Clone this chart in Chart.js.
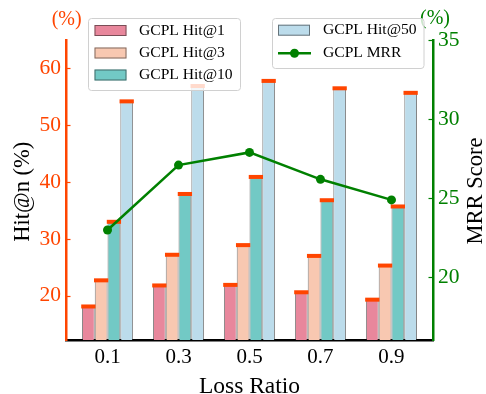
<!DOCTYPE html>
<html>
<head>
<meta charset="utf-8">
<script src="https://cdn.jsdelivr.net/npm/chart.js@4.4.1/dist/chart.umd.min.js"></script>
<style>
  html, body { margin: 0; padding: 0; background: #fff; }
</style>
</head>
<body>
<canvas id="chart" width="486" height="394"></canvas>
<script>
// Data
const lossRatios = ['0.1', '0.3', '0.5', '0.7', '0.9'];
const hit1 = [18.1, 21.8, 21.9, 20.6, 19.3];
const hit3 = [22.7, 27.2, 28.9, 27.0, 25.3];
const hit10 = [33.0, 37.9, 40.9, 36.8, 35.7];
const hit50 = [54.2, 56.9, 57.8, 56.5, 55.7];
const mrr = [23.0, 27.1, 27.9, 26.2, 24.9];
const hitTicks = [20, 30, 40, 50, 60];
const mrrTicks = [20, 25, 30, 35];

const SERIF = "'Liberation Serif', 'Times New Roman', serif";
const ORANGE = '#ff4500';
const GREEN = '#008000';

function toPoints(arr) {
  return arr.map((v, i) => ({ x: i, y: v }));
}

function barSet(label, values, color) {
  return {
    type: 'bar',
    label: label,
    data: toPoints(values),
    backgroundColor: color,
    borderColor: 'rgba(30,30,30,0.55)',
    borderWidth: 1,
    categoryPercentage: 0.72,
    barPercentage: 1,
    yAxisID: 'y',
    order: 1
  };
}

// caps on bars, inward ticks, titles and the two legends
const decorPlugin = {
  id: 'decor',
  afterDatasetDraw(chart, args) {
    if (args.meta.type !== 'bar') return;
    const ctx = chart.ctx;
    ctx.save();
    ctx.fillStyle = ORANGE;
    args.meta.data.forEach(bar => {
      const w = bar.width + 1.5;
      ctx.fillRect(bar.x - w / 2, bar.y - 2, w, 4);
    });
    ctx.restore();
  },
  afterDraw(chart) {
    const ctx = chart.ctx;
    const area = chart.chartArea;
    const yScale = chart.scales.y;
    const y1Scale = chart.scales.y1;
    ctx.save();

    // inward tick marks
    ctx.lineWidth = 1.2;
    ctx.strokeStyle = ORANGE;
    hitTicks.forEach(v => {
      const py = Math.round(yScale.getPixelForValue(v)) + 0.5;
      ctx.beginPath();
      ctx.moveTo(area.left, py);
      ctx.lineTo(area.left + 4.5, py);
      ctx.stroke();
    });
    ctx.strokeStyle = GREEN;
    mrrTicks.forEach(v => {
      const py = Math.round(y1Scale.getPixelForValue(v)) + 0.5;
      ctx.beginPath();
      ctx.moveTo(area.right, py);
      ctx.lineTo(area.right - 4.5, py);
      ctx.stroke();
    });

    // (%) unit labels
    ctx.font = '20px ' + SERIF;
    ctx.textAlign = 'center';
    ctx.textBaseline = 'middle';
    ctx.fillStyle = ORANGE;
    ctx.fillText('(%)', 66.7, 19.5);
    ctx.fillStyle = GREEN;
    ctx.fillText('(%)', 435, 18.5);

    // axis titles
    ctx.fillStyle = '#000';
    ctx.font = '23.5px ' + SERIF;
    ctx.textBaseline = 'alphabetic';
    ctx.fillText('Loss Ratio', (area.left + area.right) / 2, 392.5);

    ctx.font = '22.5px ' + SERIF;
    ctx.save();
    ctx.translate(23.3, 191.7);
    ctx.rotate(-Math.PI / 2);
    ctx.textBaseline = 'middle';
    ctx.fillText('Hit@n (%)', 0, 0);
    ctx.restore();

    ctx.save();
    ctx.translate(481.5, 191);
    ctx.rotate(-Math.PI / 2);
    ctx.textBaseline = 'alphabetic';
    ctx.fillText('MRR Score', 0, 0);
    ctx.restore();

    // legends
    const ds = chart.data.datasets;
    function box(x, y, w, h) {
      ctx.beginPath();
      ctx.roundRect(x, y, w, h, 3);
      ctx.fillStyle = 'rgba(255,255,255,0.8)';
      ctx.fill();
      ctx.lineWidth = 1;
      ctx.strokeStyle = '#d0d0d0';
      ctx.stroke();
    }
    function patch(x, cy, d) {
      ctx.fillStyle = d.backgroundColor;
      ctx.fillRect(x, cy - 5.5, 32, 11);
      ctx.lineWidth = 1;
      ctx.strokeStyle = d.borderColor;
      ctx.strokeRect(x + 0.5, cy - 5, 31, 10);
    }
    function label(text, x, cy) {
      ctx.fillStyle = '#000';
      ctx.font = '15.6px ' + SERIF;
      ctx.textAlign = 'left';
      ctx.textBaseline = 'middle';
      ctx.fillText(text, x, cy);
    }

    box(88.5, 18.5, 152, 72);
    [30.5, 53, 75].forEach((cy, i) => {
      patch(94.5, cy, ds[i]);
      label(ds[i].label, 139, cy);
    });

    box(272.5, 18.5, 151.5, 50);
    patch(278, 30.2, ds[3]);
    label(ds[3].label, 323, 30.2);
    ctx.strokeStyle = GREEN;
    ctx.lineWidth = 2.5;
    ctx.beginPath();
    ctx.moveTo(278, 53.3);
    ctx.lineTo(311, 53.3);
    ctx.stroke();
    ctx.fillStyle = GREEN;
    ctx.beginPath();
    ctx.arc(294.5, 53.3, 4.5, 0, Math.PI * 2);
    ctx.fill();
    label(ds[4].label, 323, 53.3);

    ctx.restore();
  }
};

const ctx = document.getElementById('chart').getContext('2d');
new Chart(ctx, {
  data: {
    datasets: [
      barSet('GCPL Hit@1', hit1, '#e8879c'),
      barSet('GCPL Hit@3', hit3, '#f8c8b1'),
      barSet('GCPL Hit@10', hit10, '#72c9c5'),
      barSet('GCPL Hit@50', hit50, '#bcdceb'),
      {
        type: 'line',
        label: 'GCPL MRR',
        data: toPoints(mrr),
        borderColor: GREEN,
        backgroundColor: GREEN,
        borderWidth: 2.5,
        pointRadius: 4.5,
        pointBorderWidth: 0,
        yAxisID: 'y1',
        order: 0
      }
    ]
  },
  options: {
    responsive: false,
    animation: false,
    devicePixelRatio: 1,
    layout: { padding: { top: 40, left: 0, right: 0, bottom: 0 } },
    plugins: {
      legend: { display: false },
      tooltip: { enabled: false }
    },
    scales: {
      x: {
        type: 'linear',
        position: 'bottom',
        min: -0.585,
        max: 4.585,
        offset: false,
        afterBuildTicks: scale => { scale.ticks = lossRatios.map((_, i) => ({ value: i })); },
        afterFit: scale => { scale.height = 54; },
        grid: { display: false, drawTicks: false },
        border: { display: true, color: '#000', width: 2.5 },
        ticks: {
          padding: 5,
          color: '#000',
          font: { family: SERIF, size: 21 },
          callback: value => lossRatios[value]
        }
      },
      y: {
        type: 'linear',
        position: 'left',
        min: 12.2,
        max: 65,
        afterBuildTicks: scale => { scale.ticks = hitTicks.map(v => ({ value: v })); },
        afterFit: scale => { scale.width = 66; },
        grid: { display: false, drawTicks: false },
        border: { display: true, color: ORANGE, width: 2.5 },
        ticks: {
          padding: 5,
          color: ORANGE,
          font: { family: SERIF, size: 21.5 }
        }
      },
      y1: {
        type: 'linear',
        position: 'right',
        min: 16.05,
        max: 35,
        afterBuildTicks: scale => { scale.ticks = mrrTicks.map(v => ({ value: v })); },
        afterFit: scale => { scale.width = 53; },
        grid: { display: false, drawTicks: false },
        border: { display: true, color: GREEN, width: 2.5 },
        ticks: {
          padding: 5,
          color: GREEN,
          font: { family: SERIF, size: 21.5 }
        }
      }
    }
  },
  plugins: [decorPlugin]
});
</script>
</body>
</html>
